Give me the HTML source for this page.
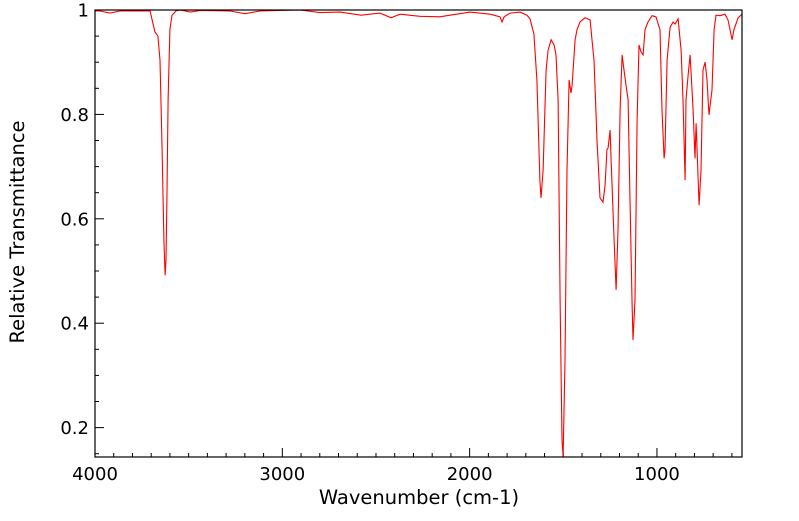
<!DOCTYPE html>
<html><head><meta charset="utf-8"><style>
html,body{margin:0;padding:0;background:#fff;}
svg text{font-family:"DejaVu Sans","Liberation Sans",sans-serif;font-size:18px;fill:#000;}
svg text.title{font-size:19.5px;}
</style></head><body>
<svg id="chart" width="799" height="516" xmlns="http://www.w3.org/2000/svg">
<g id="ticks"></g>
<path id="spectrum" fill="none" stroke="#ff0000" stroke-width="1.1"/>
<rect x="95" y="10" width="647" height="447" fill="none" stroke="#000" stroke-width="1.2"/>
<text class="title" x="419" y="504" text-anchor="middle">Wavenumber (cm-1)</text>
<text class="title" transform="translate(24,232) rotate(-90)" text-anchor="middle">Relative Transmittance</text>
<g id="labels"></g>
</svg>
<script>
const wavenumbers=[4000,3973,3920,3867,3706,3680,3664,3653,3642,3632,3626,3621,3616,3610,3600,3589,3568,3546,3490,3440,3279,3200,3119,2905,2800,2692,2580,2478,2420,2372,2265,2158,2105,1998,1891,1838,1827,1816,1784,1731,1694,1678,1657,1641,1625,1619,1608,1592,1581,1565,1549,1539,1528,1517,1507,1501,1491,1480,1469,1459,1453,1437,1427,1411,1384,1357,1347,1336,1320,1304,1288,1277,1267,1261,1250,1245,1229,1218,1208,1197,1186,1176,1165,1154,1144,1133,1128,1117,1106,1096,1085,1074,1064,1048,1026,1005,984,973,962,957,946,930,914,903,887,871,861,850,845,834,823,807,797,791,786,775,765,754,743,733,722,706,695,685,663,637,621,599,589,567,546];
const transmittance=[.998,.998,.994,.998,.998,.958,.950,.904,.732,.559,.492,.521,.636,.828,.962,.990,.998,1.0,.996,.999,.998,.993,.998,1.0,.995,.996,.990,.994,.985,.992,.988,.987,.990,.996,.992,.987,.977,.987,.994,.996,.990,.983,.954,.866,.674,.640,.693,.885,.923,.943,.933,.914,.828,.444,.176,.144,.329,.693,.866,.841,.856,.943,.962,.977,.985,.981,.943,.904,.751,.640,.632,.665,.732,.736,.770,.713,.559,.464,.578,.808,.914,.885,.856,.828,.636,.444,.368,.444,.789,.933,.920,.914,.962,.977,.989,.987,.962,.808,.716,.732,.904,.967,.977,.973,.983,.923,.828,.674,.828,.875,.914,.808,.716,.783,.736,.626,.693,.885,.900,.866,.799,.847,.962,.990,.989,.992,.981,.943,.962,.985,.992];
const xTicks=[4000,3000,2000,1000];
const yTicks=[0.2,0.4,0.6,0.8,1];
const yTickLabels=["0.2","0.4","0.6","0.8","1"];
const X0=95,X1=742,Y0=10,Y1=457,WMAX=4000,WMIN=546,TMAX=1,TMIN=0.1437;
function xs(w){return X0+(WMAX-w)/(WMAX-WMIN)*(X1-X0);}
function ys(t){return Y0+(TMAX-t)/(TMAX-TMIN)*(Y1-Y0);}
let d="";
for(let i=0;i<wavenumbers.length;i++){d+=(i?"L":"M")+xs(wavenumbers[i]).toFixed(1)+","+ys(transmittance[i]).toFixed(1);}
document.getElementById('spectrum').setAttribute('d',d);
const NS="http://www.w3.org/2000/svg";
const tg=document.getElementById('ticks'),lg=document.getElementById('labels');
function line(x1,y1,x2,y2){const l=document.createElementNS(NS,'line');l.setAttribute('x1',x1);l.setAttribute('y1',y1);l.setAttribute('x2',x2);l.setAttribute('y2',y2);l.setAttribute('stroke','#000');l.setAttribute('stroke-width','1');


tg.appendChild(l);}
for(let w=4000;w>=600;w-=100){const x=xs(w);const major=w%1000===0;line(x,Y1,x,Y1-(major?9:4));}
for(let k=3;k<=20;k++){const t=k*0.05;const y=ys(t);const major=k%4===0;line(X0,y,X0+(major?9:4),y);}
xTicks.forEach(w=>{const t=document.createElementNS(NS,'text');t.setAttribute('x',xs(w));t.setAttribute('y',480);t.setAttribute('text-anchor','middle');t.textContent=String(w);


lg.appendChild(t);});
yTicks.forEach((v,i)=>{const t=document.createElementNS(NS,'text');t.setAttribute('x',89);t.setAttribute('y',ys(v)+6.5);t.setAttribute('text-anchor','end');t.textContent=yTickLabels[i];


lg.appendChild(t);});
</script>
</body></html>
